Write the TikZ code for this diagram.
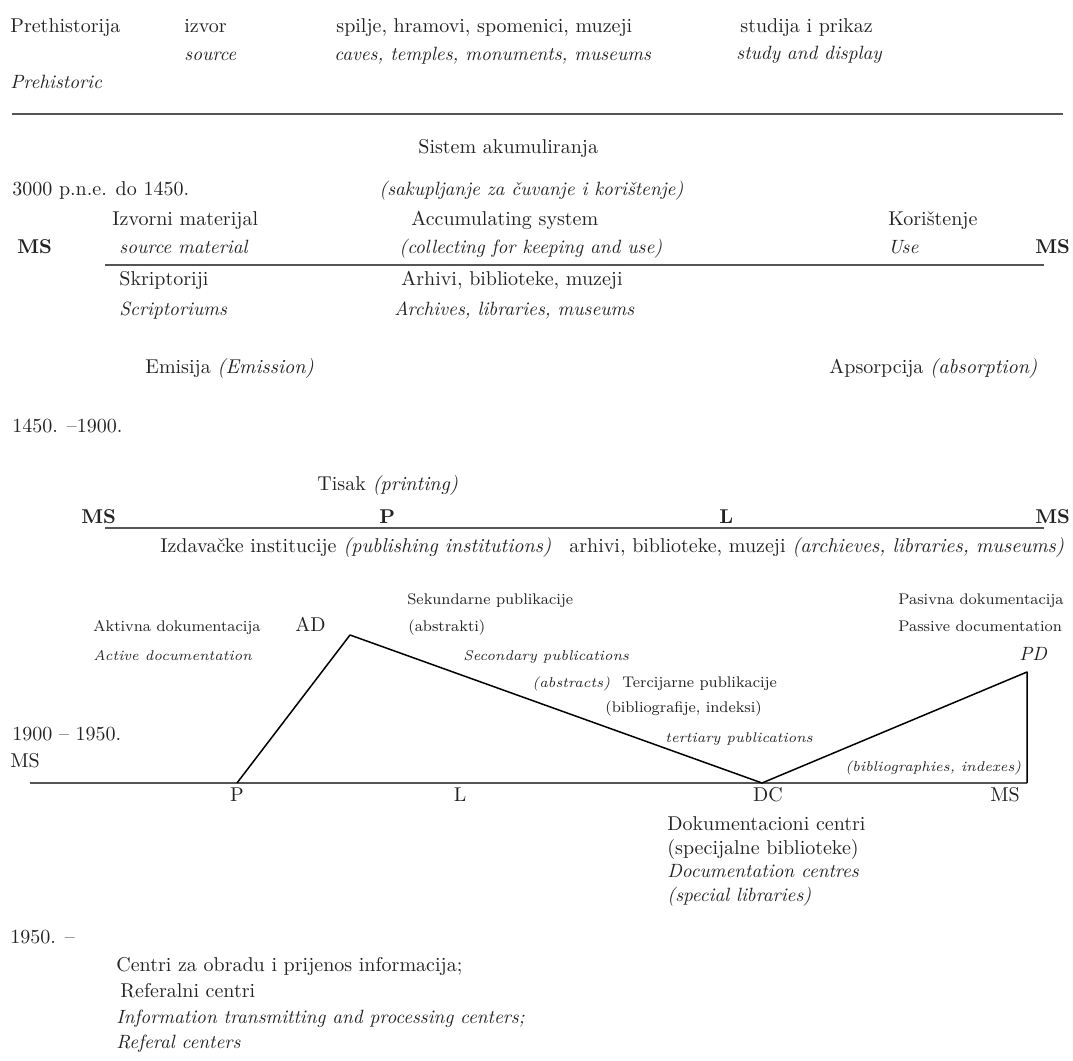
\documentclass[tikz,border=0pt]{standalone}
\definecolor{txt}{HTML}{222222}
\definecolor{rulegray}{HTML}{555555}
\tikzset{
  txtn/.style={anchor=base west, inner sep=0pt, text=txt, font=\fontsize{10}{12}\selectfont},
  txti/.style={txtn, font=\fontsize{9.6}{12}\selectfont\itshape},
  txtb/.style={txtn, font=\fontsize{10}{12}\selectfont\bfseries},
  txts/.style={txtn, font=\fontsize{7.7}{10}\selectfont},
  txtsi/.style={txtn, font=\fontsize{7.1}{9}\selectfont\itshape},
  lbl/.style={anchor=base, inner sep=0pt, text=txt, font=\fontsize{10}{12}\selectfont},
  rulel/.style={draw=rulegray, line width=1pt},
  graphl/.style={draw=black, line width=0.75pt, line join=round}
}
\begin{document}
\begin{tikzpicture}[x=0.5pt,y=-0.5pt]
\useasboundingbox (0,0) rectangle (1073,1061);
% --- Prehistoric
\node[txtn] (pre) at (10,32) {Prethistorija};
\node[txtn] (izvor) at (184,32) {izvor};
\node[txtn] (spilje) at (336,32) {spilje, hramovi, spomenici, muzeji};
\node[txtn] (studija) at (740,32) {studija i prikaz};
\node[txti] (source) at (184,60) {source};
\node[txti] (caves) at (334,60) {caves, temples, monuments, museums};
\node[txti] (study) at (736,59) {study and display};
\node[txti] (prehist) at (10,88) {Prehistoric};
\coordinate (r1a) at (12,114);
\coordinate (r1b) at (1063,114);
\draw[rulel] (r1a) -- (r1b);
% --- 3000 BC to 1450
\node[txtn] (sistem) at (418,153) {Sistem akumuliranja};
\node[txtn] (y3000) at (12,195) {3000 p.n.e. do 1450.};
\node[txti] (sakup) at (379,195) {(sakupljanje za čuvanje i korištenje)};
\node[txtn] (izvorni) at (112,225) {Izvorni materijal};
\node[txtn] (accum) at (411,225) {Accumulating system};
\node[txtn] (koris) at (888,225) {Korištenje};
\node[txtb] (ms1) at (17,253) {MS};
\node[txti] (srcmat) at (119,253) {source material};
\node[txti] (collect) at (399,253) {(collecting for keeping and use)};
\node[txti] (use) at (888,253) {Use};
\node[txtb] (ms2) at (1035,253) {MS};
\coordinate (r2a) at (105,265);
\coordinate (r2b) at (1044,265);
\draw[rulel] (r2a) -- (r2b);
\node[txtn] (skript) at (119,285) {Skriptoriji};
\node[txtn] (arhivi1) at (401,285) {Arhivi, biblioteke, muzeji};
\node[txti] (scriptor) at (119,315) {Scriptoriums};
\node[txti] (archives1) at (394,315) {Archives, libraries, museums};
\node[txtn] (emisija) at (145,373) {Emisija \textit{(Emission)}};
\node[txtn] (apsorp) at (829,373) {Apsorpcija \textit{(absorption)}};
% --- 1450 - 1900
\node[txtn] (y1450) at (12,432) {1450. –1900.};
\node[txtn] (tisak) at (317,490) {Tisak \textit{(printing)}};
\node[txtb] (ms3) at (81,523) {MS};
\node[txtb] (p1) at (379,523) {P};
\node[txtb] (l1) at (719,523) {L};
\node[txtb] (ms4) at (1035,523) {MS};
\coordinate (r3a) at (105,528);
\coordinate (r3b) at (1044,528);
\draw[rulel] (r3a) -- (r3b);
\node[txtn] (izdav) at (160,552) {Izdavačke institucije \textit{(publishing institutions)}};
\node[txtn] (arhivi2) at (569,552) {arhivi, biblioteke, muzeji \textit{(archieves, libraries, museums)}};
% --- 1900 - 1950
\node[txts] (sekund) at (407,604) {Sekundarne publikacije};
\node[txts] (pasivna) at (898,604) {Pasivna dokumentacija};
\node[txts] (aktivna) at (93,631) {Aktivna dokumentacija};
\node[txtn] (adl) at (295,631) {AD};
\node[txts] (abstrakti) at (408,631) {(abstrakti)};
\node[txts] (passive) at (898,631) {Passive documentation};
\node[txtsi] (active) at (93,660) {Active documentation};
\node[txtsi] (secondary) at (463,660) {Secondary publications};
\node[txti] (pdl) at (1019,660) {PD};
\node[txtsi] (abstracts) at (532,687) {(abstracts)};
\node[txts] (tercij) at (622,687) {Tercijarne publikacije};
\node[txts] (bibliog) at (605,712) {(bibliografije, indeksi)};
\node[txtn] (y1900) at (12,740) {1900 – 1950.};
\node[txtsi] (tertiary) at (665,742) {tertiary publications};
\node[txtn] (ms5) at (10,767) {MS};
\node[txtsi] (bibliogr) at (845,771) {(bibliographies, indexes)};
\coordinate (r4a) at (30,783);
\coordinate (P) at (237,783);
\coordinate (AD) at (350,635);
\coordinate (DC) at (762,783);
\coordinate (PD) at (1027,672);
\coordinate (PDb) at (1027,783);
\draw[rulel] (r4a) -- (PDb);
\draw[graphl] (P) -- (AD) -- (DC) -- (PD) -- (PDb);
\node[lbl] (pl) at (237,801) {P};
\node[lbl] (ll) at (460,801) {L};
\node[lbl] (dcl) at (768,801) {DC};
\node[lbl] (msl) at (1005,801) {MS};
\node[txtn] (dokum) at (667,830) {Dokumentacioni centri};
\node[txtn] (specij) at (667,854) {(specijalne biblioteke)};
\node[txti] (doccent) at (667,877) {Documentation centres};
\node[txti] (speclib) at (667,901) {(special libraries)};
% --- 1950 -
\node[txtn] (y1950) at (10,943) {1950. –};
\node[txtn] (centri) at (116,971) {Centri za obradu i prijenos informacija;};
\node[txtn] (referal) at (120,997) {Referalni centri};
\node[txti] (inform) at (116,1023) {Information transmitting and processing centers;};
\node[txti] (referalc) at (116,1048) {Referal centers};
\end{tikzpicture}
\end{document}
